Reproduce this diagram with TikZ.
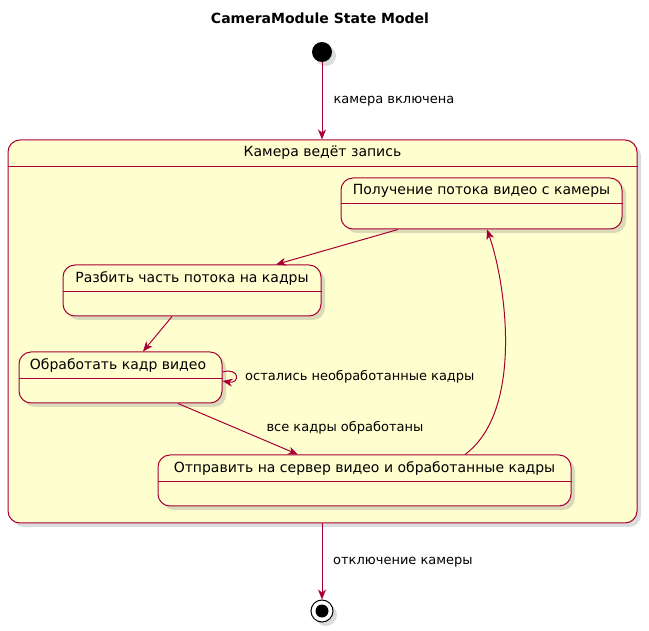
\documentclass[tikz,border=0pt]{standalone}
\usepackage{fontspec}
\setmainfont{DejaVu Sans}
\usetikzlibrary{arrows.meta,shadows}
\definecolor{ucol}{HTML}{A80036}
\definecolor{ufill}{HTML}{FEFECE}
\tikzset{
  shad/.style={drop shadow={opacity=0.28,shadow xshift=4pt,shadow yshift=-4pt}},
  statebox/.style={draw=ucol,fill=ufill,line width=1pt,rounded corners=12pt,inner sep=0pt,shad},
  sname/.style={font=\fontsize{14}{16}\selectfont,inner sep=0pt,anchor=center},
  elabel/.style={font=\fontsize{13}{15}\selectfont,inner sep=0pt},
  sepline/.style={color=ucol,line width=1.2pt},
  arr/.style={color=ucol,line width=1pt,-{Stealth[length=10pt,width=8pt,inset=3pt]}},
}
\begin{document}
\begin{tikzpicture}[x=1pt,y=-1pt]
\useasboundingbox (0,0) rectangle (649,631);
\node[font=\fontsize{14}{16}\selectfont\bfseries,inner sep=0pt] (title) at (320,18) {CameraModule State Model};
% start
\node[circle,fill=black,minimum size=20pt,inner sep=0pt,shad] (start) at (322,52) {};
% composite
\node[statebox,minimum width=629pt,minimum height=383pt] (comp) at (322.5,331.5) {};
\node[sname] (compt) at (322.5,153) {Камера ведёт запись};
\draw[sepline] (comp.west |- 0,166.5) -- (comp.east |- 0,166.5);
% states
\node[statebox,minimum width=281pt,minimum height=51pt] (s1) at (481.5,203.5) {};
\node[sname] (s1t) at (481.5,191) {Получение потока видео с камеры};
\draw[sepline] (s1.west |- 0,203.5) -- (s1.east |- 0,203.5);
\node[statebox,minimum width=258pt,minimum height=51pt] (s2) at (192,290.5) {};
\node[sname] (s2t) at (192,279) {Разбить часть потока на кадры};
\draw[sepline] (s2.west |- 0,291.5) -- (s2.east |- 0,291.5);
\node[statebox,minimum width=203pt,minimum height=51pt] (s3) at (120.5,377.5) {};
\node[sname] (s3t) at (118,366) {Обработать кадр видео};
\draw[sepline] (s3.west |- 0,378.5) -- (s3.east |- 0,378.5);
\node[statebox,minimum width=413pt,minimum height=51pt] (s4) at (364.5,480.5) {};
\node[sname] (s4t) at (364.5,469) {Отправить на сервер видео и обработанные кадры};
\draw[sepline] (s4.west |- 0,481.5) -- (s4.east |- 0,481.5);
% end
\node[circle,draw=black,fill=white,line width=1pt,minimum size=22pt,inner sep=0pt,shad] (end) at (322,611) {};
\node[circle,fill=black,minimum size=13pt,inner sep=0pt] (endin) at (322,611) {};
% edges
\draw[arr] (start) -- (comp.north -| start) node[elabel,pos=0.5,anchor=west,xshift=11pt,text=black] (l1) {камера включена};
\draw[arr] (s1.south -| 398,0) -- (s2.north -| 276,0);
\draw[arr] (s2.south -| 172,0) -- (s3.north -| 143,0);
\draw[arr] (s3.east |- 0,372) .. controls (240,367) and (240,384) .. (s3.east |- 0,381);
\node[elabel,anchor=west] (l2) at (245,377) {остались необработанные кадры};
\draw[arr] (s3.south -| 178,0) -- (s4.north -| 298,0);
\node[elabel] (l3) at (345,428) {все кадры обработаны};
\draw[arr] (s4.north -| 465,0) .. controls (525,410) and (505,280) .. (s1.south -| 487,0);
\draw[arr] (comp.south -| end) -- (end.north);
\node[elabel,anchor=west] (l4) at (333,562) {отключение камеры};
\end{tikzpicture}
\end{document}
